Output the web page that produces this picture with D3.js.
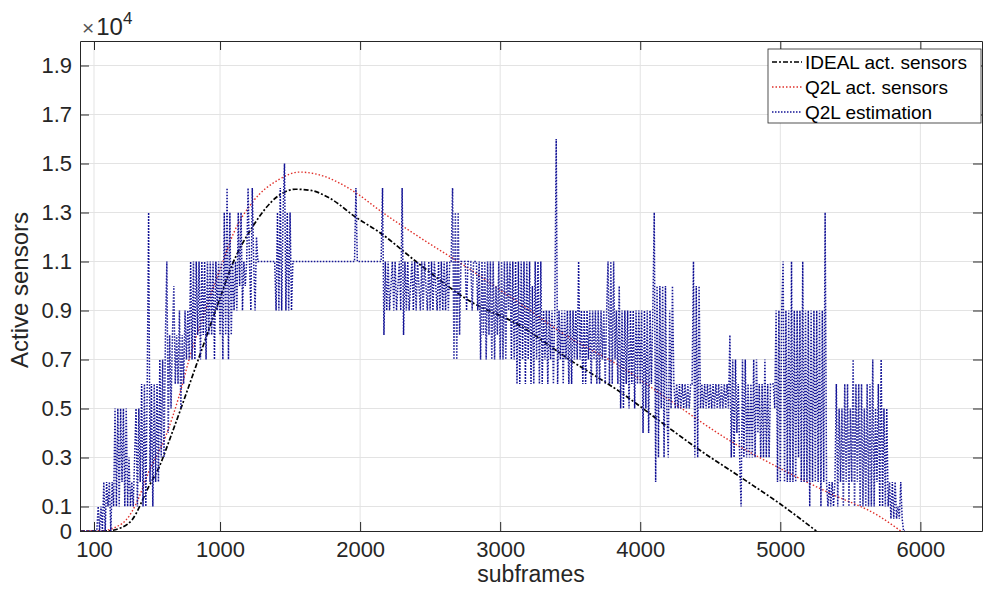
<!DOCTYPE html>
<html lang="en">
<head>
    <meta charset="UTF-8">
    <title>Active sensors per subframe</title>
    <style>
        body {
            margin: 0;
            padding: 0;
            background-color: #ffffff;
            font-family: "Liberation Sans", Arial, sans-serif;
        }
        .tick text {
            font-size: 22px;
            fill: #262626;
        }
        .axis path, .axis line {
            stroke: #262626;
        }
        .grid line {
            stroke: #e3e3e3;
            stroke-width: 1;
        }
        .label {
            font-size: 24px;
            fill: #262626;
        }
        .legend text {
            font-size: 19px;
            fill: #000;
        }
    </style>
</head>
<body>
    <svg id="chart" width="983" height="599"></svg>

    <script src="https://d3js.org/d3.v7.min.js"></script>
    <script>
        // axis ticks
        const xTicks = [100, 1000, 2000, 3000, 4000, 5000, 6000];
        const yTicks = [0, 1000, 3000, 5000, 7000, 9000, 11000, 13000, 15000, 17000, 19000];
        const yTickLabels = ["0", "0.1", "0.3", "0.5", "0.7", "0.9", "1.1", "1.3", "1.5", "1.7", "1.9"];

        // IDEAL act. sensors
        const idealSubframes = [0, 180, 300, 371, 490, 564, 657, 826, 993, 1089, 1230, 1421, 1540, 1650, 1779,
            1971, 2136, 2421, 2779, 3136, 3493, 3850, 4207, 4400, 4729, 5000, 5257];
        const idealValues = [0, 0, 150, 450, 1800, 2600, 4000, 6700, 9400, 10900, 12400, 13700, 13950, 13900, 13600,
            12800, 12200, 10900, 9400, 8400, 7000, 5700, 4200, 3400, 2150, 1100, 0];

        // Q2L act. sensors
        const q2lSubframes = [0, 140, 300, 400, 490, 614, 707, 779, 900, 1014, 1100, 1229, 1421, 1564, 1700,
            1971, 2136, 2421, 2779, 3136, 3493, 3850, 4207, 4636, 5000, 5350, 5707, 5860];
        const q2lValues = [0, 0, 300, 1100, 2400, 3900, 5500, 7000, 9100, 10900, 12200, 13400, 14350, 14650, 14550,
            13800, 13100, 12000, 10700, 9300, 7900, 6750, 5350, 3700, 2550, 1550, 600, 0];

        // Q2L estimation, one value every 10 subframes from 0, in thousands (one row = 100 subframes)
        const estStart = 0;
        const estStep = 10;
        const estThousands = [
            0, 0, 0, 0, 0, 0, 0, 0, 0, 0,
            0, 0, 0, 1, 0, 1, 0, 2, 0, 2,
            1, 2, 0, 2, 1, 5, 1, 5, 1, 5,
            2, 5, 1, 5, 1, 3, 1, 2, 1, 3,
            5, 1, 5, 2, 6, 1, 6, 1, 6, 13,
            2, 6, 1, 6, 2, 6, 2, 7, 3, 7,
            3, 8, 11, 4, 8, 5, 8, 10, 6, 8,
            6, 9, 5, 8, 6, 9, 7, 9, 7, 11,
            7, 11, 7, 11, 8, 11, 7, 11, 8, 11,
            7, 11, 8, 11, 8, 11, 7, 11, 9, 11,
            8, 11, 7, 13, 8, 14, 7, 13, 8, 11,
            9, 11, 9, 13, 10, 13, 9, 11, 10, 11,
            14, 11, 9, 14, 11, 9, 12, 11, 11, 11,
            11, 11, 11, 11, 11, 11, 11, 11, 11, 11,
            9, 13, 9, 14, 9, 13, 15, 9, 13, 9,
            13, 9, 11, 11, 11, 11, 11, 11, 11, 11,
            11, 11, 11, 11, 11, 11, 11, 11, 11, 11,
            11, 11, 11, 11, 11, 11, 11, 11, 11, 11,
            11, 11, 11, 11, 11, 11, 11, 11, 11, 11,
            11, 11, 11, 11, 11, 11, 11, 14, 11, 11,
            11, 11, 11, 11, 11, 11, 11, 11, 11, 11,
            11, 11, 11, 11, 11, 11, 14, 8, 11, 9,
            11, 9, 10, 11, 9, 11, 9, 10, 11, 9,
            14, 8, 11, 9, 11, 9, 10, 11, 9, 11,
            9, 11, 10, 9, 11, 9, 11, 10, 9, 11,
            9, 11, 9, 11, 10, 9, 11, 9, 11, 9,
            11, 9, 11, 9, 11, 11, 14, 7, 13, 7,
            13, 8, 11, 11, 11, 11, 9, 11, 11, 11,
            9, 11, 11, 11, 9, 11, 7, 11, 8, 11,
            7, 11, 8, 11, 7, 11, 7, 10, 8, 11,
            7, 11, 7, 11, 7, 11, 9, 11, 7, 11,
            7, 11, 6, 11, 6, 11, 7, 11, 6, 11,
            7, 11, 6, 10, 6, 11, 7, 11, 6, 11,
            6, 9, 7, 9, 6, 9, 7, 9, 6, 9,
            16, 6, 9, 7, 9, 6, 9, 7, 9, 6,
            9, 6, 9, 7, 9, 7, 11, 7, 9, 6,
            9, 6, 9, 7, 9, 6, 9, 7, 9, 6,
            9, 6, 9, 7, 9, 6, 9, 11, 6, 11,
            6, 11, 7, 9, 6, 10, 5, 9, 5, 9,
            6, 9, 5, 9, 6, 9, 5, 9, 6, 9,
            6, 9, 4, 9, 5, 9, 4, 9, 6, 9,
            13, 2, 10, 3, 10, 5, 10, 3, 10, 5,
            3, 9, 5, 10, 6, 5, 6, 5, 6, 5,
            6, 5, 6, 5, 6, 5, 6, 6, 11, 3,
            10, 3, 10, 5, 6, 5, 6, 5, 6, 5,
            6, 5, 6, 5, 6, 5, 6, 5, 6, 5,
            6, 5, 6, 5, 8, 3, 7, 3, 7, 4,
            6, 3, 1, 7, 3, 7, 3, 6, 3, 6,
            3, 7, 3, 7, 4, 6, 3, 6, 3, 7,
            3, 6, 3, 6, 6, 6, 5, 9, 2, 9,
            2, 9, 11, 2, 9, 2, 9, 2, 11, 2,
            9, 2, 9, 3, 9, 2, 11, 2, 9, 2,
            9, 1, 9, 2, 9, 2, 9, 2, 9, 1,
            9, 2, 13, 2, 1, 2, 1, 2, 1, 2,
            6, 1, 5, 2, 5, 1, 6, 2, 6, 1,
            5, 2, 7, 1, 6, 2, 6, 1, 6, 1,
            5, 1, 6, 1, 6, 1, 7, 1, 5, 2,
            6, 1, 7, 1, 5, 1, 5, 1, 2, 0.5,
            2, 0.5, 2, 0.5, 1, 0.5, 2, 0.5, 0, 0
        ];

        const svg = d3.select("#chart");
        const margin = {left: 80, right: 982, top: 41, bottom: 531};

        const x = d3.scaleLinear().domain([0, 6440]).range([margin.left, margin.right]);
        const y = d3.scaleLinear().domain([0, 20000]).range([margin.bottom, margin.top]);

        svg.append("defs").append("clipPath").attr("id", "plot-clip")
            .append("rect")
            .attr("x", margin.left).attr("y", margin.top)
            .attr("width", margin.right - margin.left)
            .attr("height", margin.bottom - margin.top);

        // grid
        const grid = svg.append("g").attr("class", "grid");
        grid.selectAll(".gx").data(xTicks).enter().append("line")
            .attr("x1", d => x(d)).attr("x2", d => x(d))
            .attr("y1", margin.top).attr("y2", margin.bottom);
        grid.selectAll(".gy").data(yTicks.slice(1)).enter().append("line")
            .attr("x1", margin.left).attr("x2", margin.right)
            .attr("y1", d => y(d)).attr("y2", d => y(d));

        // data lines
        const plot = svg.append("g").attr("clip-path", "url(#plot-clip)");

        const smooth = d3.line()
            .x(d => x(d[0]))
            .y(d => y(d[1]))
            .curve(d3.curveMonotoneX);

        const idealData = idealSubframes.map((s, i) => [s, idealValues[i]]);
        const q2lData = q2lSubframes.map((s, i) => [s, q2lValues[i]]);
        const estData = estThousands.map((v, i) => [estStart + i * estStep, v * 1000]);

        plot.append("path")
            .datum(idealData)
            .attr("d", smooth)
            .attr("fill", "none")
            .attr("stroke", "#000")
            .attr("stroke-width", 1.7)
            .attr("stroke-dasharray", "5,2,2,2");

        plot.append("path")
            .datum(q2lData)
            .attr("d", smooth)
            .attr("fill", "none")
            .attr("stroke", "#e0302a")
            .attr("stroke-width", 1.4)
            .attr("stroke-dasharray", "1.5,2");

        plot.append("path")
            .datum(estData)
            .attr("d", d3.line().x(d => x(d[0])).y(d => y(d[1])))
            .attr("fill", "none")
            .attr("stroke", "#141496")
            .attr("stroke-width", 1.5)
            .attr("stroke-dasharray", "1.5,1.5");

        // axes, ticks pointing inwards like matlab
        svg.append("g")
            .attr("class", "axis")
            .attr("transform", `translate(0,${margin.bottom})`)
            .call(d3.axisBottom(x).tickValues(xTicks).tickSizeInner(-9).tickSizeOuter(0).tickPadding(10)
                .tickFormat(d3.format("d")))
            .call(g => g.selectAll(".tick text").attr("dy", "0.71em"));

        svg.append("g")
            .attr("class", "axis")
            .attr("transform", `translate(0,${margin.top})`)
            .call(d3.axisTop(x).tickValues(xTicks).tickSizeInner(-9).tickSizeOuter(0).tickFormat(""));

        svg.append("g")
            .attr("class", "axis")
            .attr("transform", `translate(${margin.left},0)`)
            .call(d3.axisLeft(y).tickValues(yTicks).tickSizeInner(-9).tickSizeOuter(0).tickPadding(8)
                .tickFormat((d, i) => yTickLabels[i]));

        svg.append("g")
            .attr("class", "axis")
            .attr("transform", `translate(${margin.right},0)`)
            .call(d3.axisRight(y).tickValues(yTicks).tickSizeInner(-9).tickSizeOuter(0).tickFormat(""));

        svg.selectAll(".axis .tick text").style("font-family", "'Liberation Sans', Arial, sans-serif");

        // exponent label
        const expo = svg.append("text")
            .attr("class", "label")
            .attr("x", margin.left + 2)
            .attr("y", 35);
        expo.append("tspan").style("font-size", "21px").style("fill", "#555").text("×");
        expo.append("tspan").attr("dx", 2).style("font-size", "24px").text("10");
        expo.append("tspan").attr("dy", -11).style("font-size", "17px").text("4");

        svg.append("text")
            .attr("class", "label")
            .attr("text-anchor", "middle")
            .attr("x", (margin.left + margin.right) / 2)
            .attr("y", 582)
            .style("font-size", "23px")
            .text("subframes");

        svg.append("text")
            .attr("class", "label")
            .attr("text-anchor", "middle")
            .attr("transform", `translate(28,${(margin.top + margin.bottom) / 2 + 4}) rotate(-90)`)
            .text("Active sensors");

        // legend
        const legendItems = [
            {name: "IDEAL act. sensors", color: "#000", dash: "5,2,2,2", width: 1.4},
            {name: "Q2L act. sensors", color: "#e0302a", dash: "1.5,2", width: 1.3},
            {name: "Q2L estimation", color: "#141496", dash: "1.5,1.5", width: 1.6}
        ];

        const legend = svg.append("g").attr("class", "legend").attr("transform", "translate(768,49)");
        legend.append("rect")
            .attr("width", 213).attr("height", 74)
            .attr("fill", "#fff")
            .attr("stroke", "#262626")
            .attr("stroke-width", 0.8);

        const rows = legend.selectAll(".row").data(legendItems).enter().append("g")
            .attr("transform", (d, i) => `translate(0,${13 + i * 25})`);
        rows.append("line")
            .attr("x1", 4).attr("x2", 34)
            .attr("stroke", d => d.color)
            .attr("stroke-width", d => d.width)
            .attr("stroke-dasharray", d => d.dash);
        rows.append("text")
            .attr("x", 37)
            .attr("y", 7)
            .text(d => d.name);
    </script>
</body>
</html>
